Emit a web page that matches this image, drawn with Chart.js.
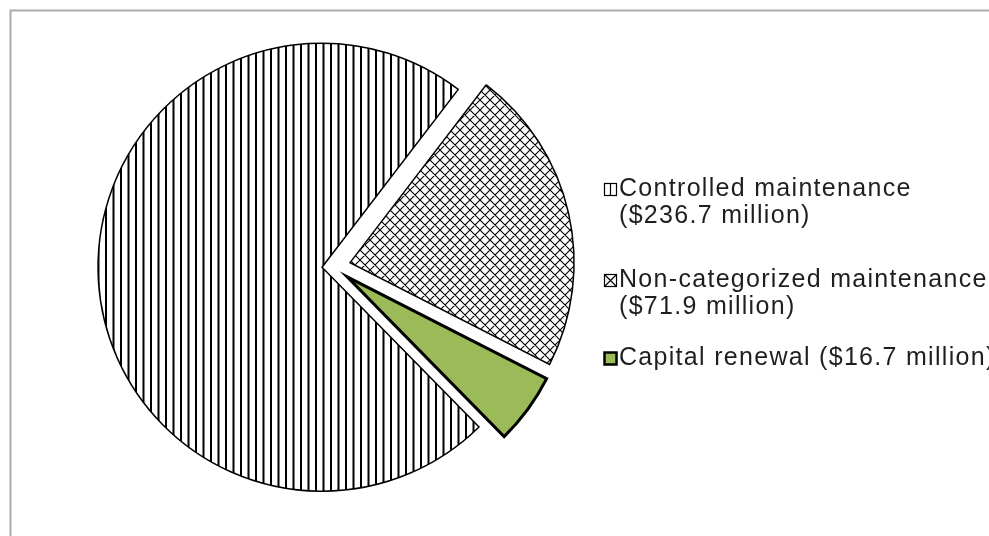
<!DOCTYPE html>
<html>
<head>
<meta charset="utf-8">
<script src="https://cdn.jsdelivr.net/npm/chart.js@4.4.1/dist/chart.umd.min.js"></script>
<style>
  html, body { margin: 0; padding: 0; background: #fff; }
  #wrap { position: relative; width: 989px; height: 536px; }
</style>
</head>
<body>
<div id="wrap"><canvas id="chart" width="989" height="536"></canvas></div>
<script>
const categories = ['Controlled maintenance', 'Non-categorized maintenance', 'Capital renewal'];
const amounts = [236.7, 71.9, 16.7];   // $ million
const wrapLabel = [true, true, false];   // amount goes on its own line

const canvas = document.getElementById('chart');
const ctx = canvas.getContext('2d');

// vertical stripe fill
function stripePattern() {
  const t = document.createElement('canvas');
  t.width = 15; t.height = 15;
  const g = t.getContext('2d');
  g.fillStyle = '#fff';
  g.fillRect(0, 0, 15, 15);
  g.fillStyle = '#000';
  g.fillRect(0, 0, 2, 15);
  g.fillRect(7.5, 0, 2, 15);
  return ctx.createPattern(t, 'repeat');
}

// diagonal cross-hatch fill
function hatchPattern() {
  const s = 10;
  const t = document.createElement('canvas');
  t.width = s; t.height = s;
  const g = t.getContext('2d');
  g.fillStyle = '#fff';
  g.fillRect(0, 0, s, s);
  g.strokeStyle = '#000';
  g.lineWidth = 1.1;
  g.beginPath();
  for (const dx of [-s, 0, s]) {
    g.moveTo(dx, 0); g.lineTo(dx + s, s);
    g.moveTo(dx + s, 0); g.lineTo(dx, s);
  }
  g.stroke();
  return ctx.createPattern(t, 'repeat');
}

// grey frame along the top and left edges
const frame = {
  id: 'frame',
  beforeDraw(chart) {
    const c = chart.ctx;
    c.save();
    c.strokeStyle = '#ababab';
    c.lineWidth = 2;
    c.beginPath();
    c.moveTo(10.5, chart.height);
    c.lineTo(10.5, 10.5);
    c.lineTo(chart.width, 10.5);
    c.stroke();
    c.restore();
  }
};

// pull every slice out from the centre along its middle angle
const explode = {
  id: 'explode',
  afterDatasetUpdate(chart, args, opts) {
    args.meta.data.forEach((arc, i) => {
      const d = opts.distance[i] || 0;
      const mid = (arc.startAngle + arc.endAngle) / 2;
      arc.x += Math.cos(mid) * d;
      arc.y += Math.sin(mid) * d;
    });
  }
};

// legend to the right with wrapped labels
const sideLegend = {
  id: 'sideLegend',
  afterDraw(chart, args, opts) {
    const c = chart.ctx;
    const ds = chart.data.datasets[0];
    c.save();
    c.font = opts.font;
    c.letterSpacing = opts.letterSpacing;
    c.textBaseline = 'middle';
    chart.data.labels.forEach((label, i) => {
      const money = '($' + ds.data[i].toFixed(1) + ' million)';
      const lines = wrapLabel[i] ? [label, money] : [label + ' ' + money];
      const y = opts.rows[i];
      const bx = opts.boxX + 0.5, s = opts.box;
      const by = Math.round(y - s / 2) + 0.5;
      c.lineWidth = 1.2;
      c.strokeStyle = '#000';
      if (i === 0) {
        c.fillStyle = '#fff';
        c.fillRect(bx, by, s, s);
        c.strokeRect(bx, by, s, s);
        c.beginPath();
        c.moveTo(bx + s / 2, by); c.lineTo(bx + s / 2, by + s);
        c.stroke();
      } else if (i === 1) {
        c.fillStyle = '#fff';
        c.fillRect(bx, by, s, s);
        c.strokeRect(bx, by, s, s);
        c.beginPath();
        c.moveTo(bx, by); c.lineTo(bx + s, by + s);
        c.moveTo(bx + s, by); c.lineTo(bx, by + s);
        c.stroke();
      } else {
        c.fillStyle = ds.backgroundColor[i];
        c.fillRect(bx, by, s, s);
        c.lineWidth = 2.5;
        c.strokeRect(bx, by, s, s);
      }
      c.fillStyle = '#1f1f1f';
      lines.forEach((t, k) => c.fillText(t, opts.textX, y + k * opts.lineGap));
    });
    c.restore();
  }
};

new Chart(ctx, {
  type: 'pie',
  data: {
    labels: categories,
    datasets: [{
      data: amounts,
      backgroundColor: [stripePattern(), hatchPattern(), '#9bbb59'],
      borderColor: '#000',
      borderWidth: [1.5, 1.5, 3],
      borderJoinStyle: 'miter'
    }]
  },
  options: {
    responsive: false,
    animation: false,
    events: [],
    rotation: 135.5,
    radius: 224,
    layout: { padding: { left: 0, top: 0, right: 323, bottom: 3 } },
    plugins: {
      legend: { display: false },
      tooltip: { enabled: false },
      explode: { distance: [11, 17.5, 17.5] },
      sideLegend: {
        font: '25px "Liberation Sans", Arial, sans-serif',
        letterSpacing: '1.3px',
        rows: [189, 280, 358],
        lineGap: 27,
        boxX: 604,
        box: 12,
        textX: 619
      }
    }
  },
  plugins: [frame, explode, sideLegend]
});
</script>
</body>
</html>
